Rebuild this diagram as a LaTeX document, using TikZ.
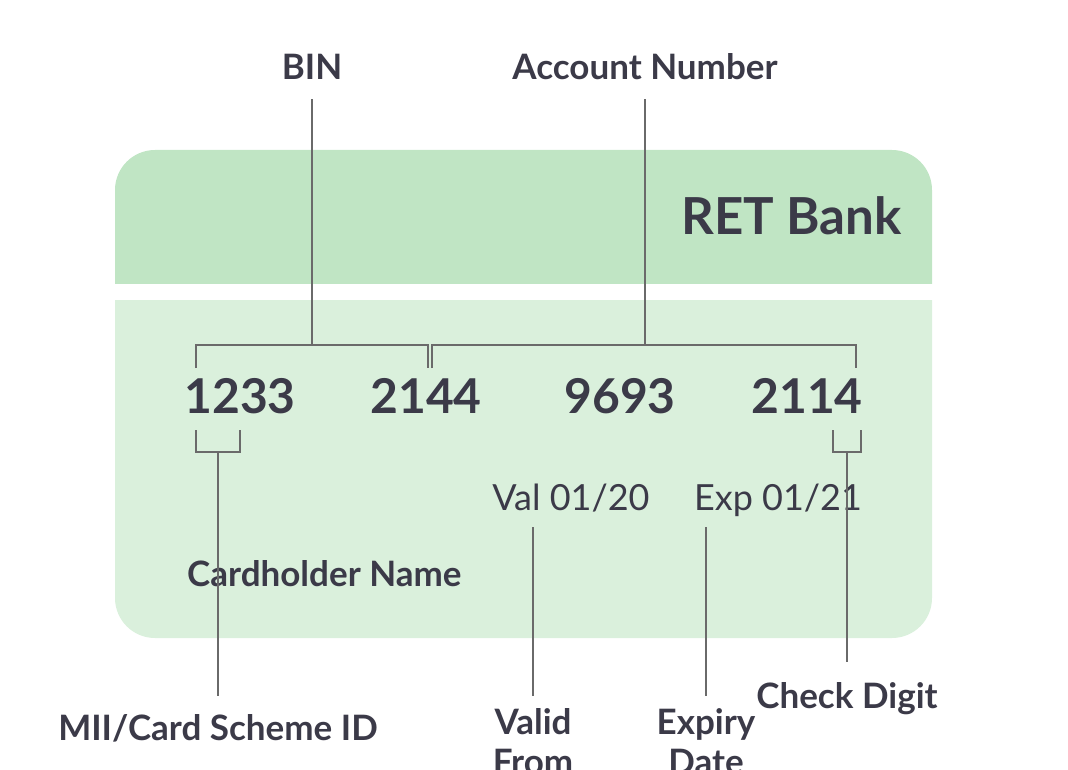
\documentclass[tikz,border=0pt]{standalone}
\usepackage{fontspec}
\setmainfont{Lato}
\usetikzlibrary{positioning}
\definecolor{cardtop}{HTML}{C0E5C4}
\definecolor{cardlow}{HTML}{DAF0DC}
\definecolor{ink}{HTML}{3B3A48}
\definecolor{leadc}{HTML}{6A6A6A}

\begin{document}
\begin{tikzpicture}[x = 1pt, y = -1pt,
  lbl/.style = {anchor = base, text = ink, inner sep = 2pt, font = \fontsize{35}{40}\selectfont\bfseries},
  num/.style = {anchor = base, text = ink, inner sep = 2pt, font = \fontsize{48}{54}\selectfont\bfseries},
  info/.style = {anchor = base, text = ink, inner sep = 2pt, font = \fontsize{36}{40}\selectfont},
  lead/.style = {draw = leadc, line width = 1.4pt}]
\useasboundingbox (0,0) rectangle (1068,770);
% card
\begin{scope}
\clip (115,150) rectangle (932,283);
\fill[cardtop, rounded corners = 40] (115,150) rectangle (932,400);
\end{scope}
\begin{scope}
\clip (115,300) rectangle (932,638);
\fill[cardlow, rounded corners = 40] (115,200) rectangle (932,638);
\end{scope}
\node[anchor = base east, text = ink, inner sep = 0pt, font = \fontsize{51}{54}\selectfont\bfseries] (bank) at (902,235) {RET Bank};
% card number
\node[num] (n1) at (240,413) {1233};
\node[num] (n2) at (426,413) {2144};
\node[num] (n3) at (620,413) {9693};
\node[num] (n4) at (807,413) {2114};
\node[info] (val) at (571,510) {Val 01/20};
\node[info] (exp) at (778,510) {Exp 01/21};
\node[lbl, anchor = base west] (name) at (185,586) {Cardholder Name};
% labels
\node[lbl] (bin) at (312,80) {BIN};
\node[lbl] (acc) at (645,80) {Account Number};
\node[lbl] (mii) at (218,740) {MII/Card Scheme ID};
\node[lbl] (chk) at (847,708) {Check Digit};
\node[lbl, align = center, anchor = north] (valid) at (533,706) {Valid\\From};
\node[lbl, align = center, anchor = north] (expiry) at (706,706) {Expiry\\Date};
% brackets
\coordinate (binj) at (312,345);
\coordinate (accj) at (645,345);
\coordinate (miij) at (218,452);
\coordinate (chkj) at (847,452);
\coordinate (valj) at (533,527);
\coordinate (expj) at (706,527);
\draw[lead] (196,368) |- (428,345) -- (428,368);
\draw[lead] (432,368) |- (856,345) -- (856,368);
\draw[lead] (196,430) |- (240,452) -- (240,430);
\draw[lead] (833,430) |- (861,452) -- (861,430);
% leaders
\draw[lead, shorten <= 17pt] (bin) -- (binj);
\draw[lead, shorten <= 17pt] (acc) -- (accj);
\draw[lead, shorten > = 16pt] (miij) -- (mii);
\draw[lead, shorten > = 18pt] (chkj) -- (chk);
\draw[lead, shorten > = 10pt] (valj) -- (valid);
\draw[lead, shorten > = 10pt] (expj) -- (expiry);
\end{tikzpicture}
\end{document}
